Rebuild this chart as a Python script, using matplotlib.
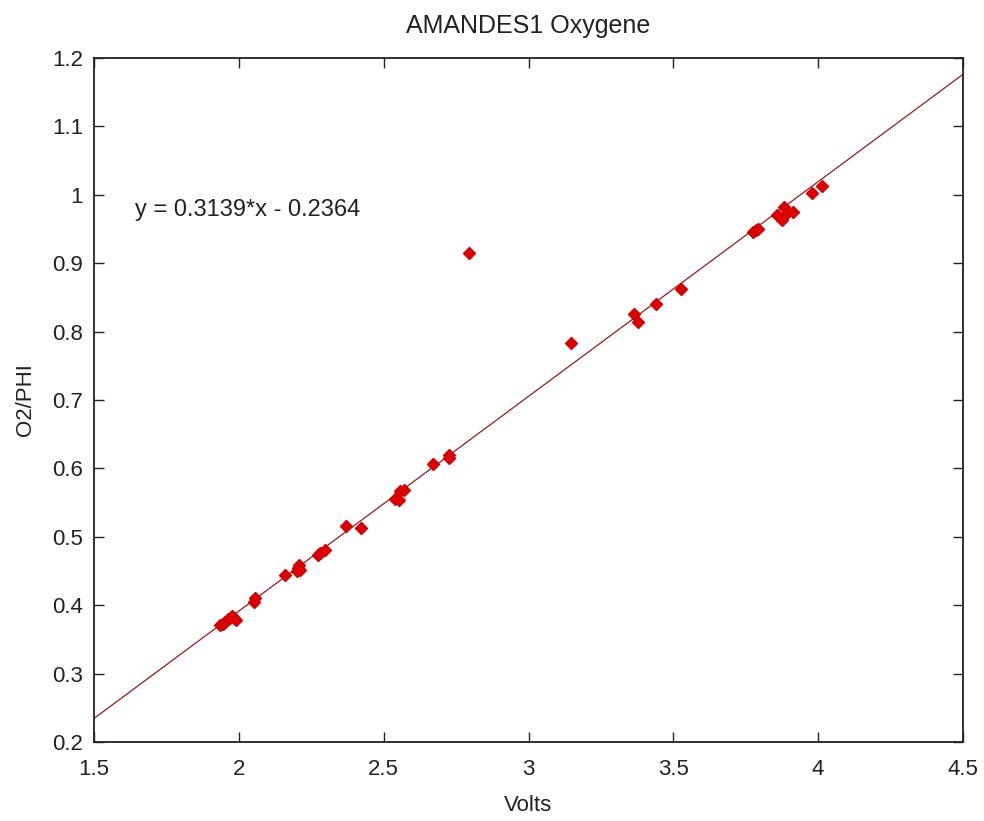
import matplotlib
matplotlib.use("Agg")
import matplotlib.pyplot as plt
import numpy as np

plt.rcParams['font.family'] = ['Liberation Sans', 'DejaVu Sans']

volts = [1.936, 1.945, 1.953, 1.962, 1.971, 1.978, 1.982, 1.99,
         2.052, 2.057, 2.161, 2.200, 2.204, 2.207, 2.210, 2.273, 2.280, 2.296,
         2.371, 2.423, 2.539, 2.552, 2.555, 2.570, 2.671, 2.724, 2.726,
         2.794, 3.147, 3.363, 3.378, 3.441, 3.528, 3.776, 3.785, 3.791,
         3.859, 3.874, 3.883, 3.891, 3.912, 3.978, 4.014]
o2phi = [0.371, 0.373, 0.376, 0.380, 0.382, 0.384, 0.381, 0.379,
         0.405, 0.410, 0.444, 0.450, 0.454, 0.459, 0.452, 0.473, 0.476, 0.481,
         0.516, 0.513, 0.555, 0.554, 0.567, 0.569, 0.607, 0.620, 0.615,
         0.915, 0.783, 0.826, 0.814, 0.840, 0.862, 0.946, 0.948, 0.950,
         0.970, 0.963, 0.982, 0.973, 0.975, 1.002, 1.013]

slope = 0.3139
intercept = -0.2364
fit_label = "y = 0.3139*x - 0.2364"

fig = plt.figure(figsize=(9.84, 8.21), dpi=100)
ax = fig.add_axes([94/984, (821-742)/821, (963-94)/984, (742-58)/821])

xf = np.array([1.5, 4.5])
ax.plot(xf, slope*xf + intercept, color='#a01818', lw=0.9)
ax.plot(volts, o2phi, linestyle='none', marker='D', markersize=6,
        color='#e00000', markeredgecolor='#d00000')

ax.set_xlim(1.5, 4.5)
ax.set_ylim(0.2, 1.2)
ax.set_xticks(np.arange(1.5, 4.51, 0.5))
ax.set_xticklabels(['1.5', '2', '2.5', '3', '3.5', '4', '4.5'])
ax.set_yticks(np.arange(0.2, 1.201, 0.1))
ax.set_yticklabels(['0.2', '0.3', '0.4', '0.5', '0.6', '0.7', '0.8', '0.9', '1', '1.1', '1.2'])
ax.tick_params(direction='in', top=True, right=True, labelsize=16, length=7, width=1,
               labelcolor='#222222', color='#222222')
ax.tick_params(axis='x', pad=12)
ax.tick_params(axis='y', pad=8)
for s in ax.spines.values():
    s.set_linewidth(1.3)
    s.set_color('#222222')

ax.text(1.64, 0.978, fit_label, fontsize=17, va='center', ha='left', color='#222222')
ax.set_title('AMANDES1 Oxygene', fontsize=18, pad=18, color='#222222')
ax.set_xlabel('Volts', fontsize=16, labelpad=11, color='#222222')
ax.set_ylabel('O2/PHI', fontsize=16, labelpad=11, color='#222222')

fig.savefig('out.png', dpi=100)
